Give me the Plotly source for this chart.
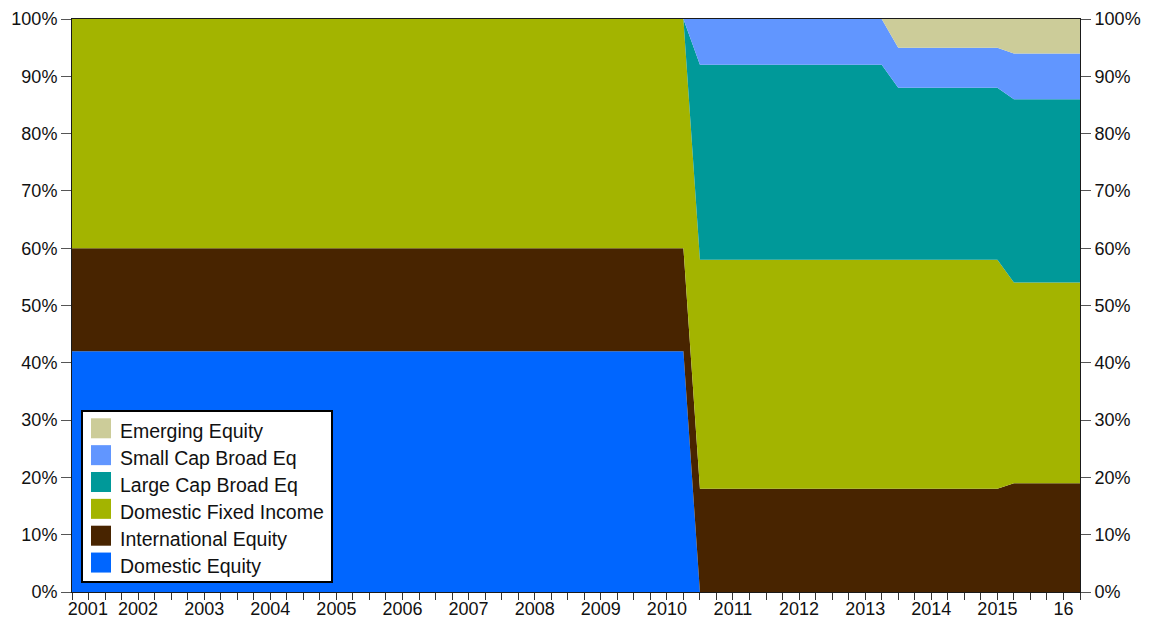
import plotly.graph_objects as go

# Quarterly dates (decimal years) at which the allocation changes; values are linear between them
dates = [2001.0, 2010.25, 2010.5, 2013.25, 2013.5, 2015.0, 2015.25, 2016.25]

domestic_equity = [42, 42, 0, 0, 0, 0, 0, 0]
international_equity = [18, 18, 18, 18, 18, 18, 19, 19]
domestic_fixed_income = [40, 40, 40, 40, 40, 40, 35, 35]
large_cap_broad_eq = [0, 0, 34, 34, 30, 30, 32, 32]
small_cap_broad_eq = [0, 0, 8, 8, 7, 7, 8, 8]
emerging_equity = [0, 0, 0, 0, 5, 5, 6, 6]

series_names = ["Domestic Equity", "International Equity", "Domestic Fixed Income",
                "Large Cap Broad Eq", "Small Cap Broad Eq", "Emerging Equity"]
series_values = [domestic_equity, international_equity, domestic_fixed_income,
                 large_cap_broad_eq, small_cap_broad_eq, emerging_equity]
series_colors = ["#0066FF", "#482400", "#A3B400", "#009999", "#6196FF", "#CCCC99"]

year_ticks = [2001.24, 2002, 2003, 2004, 2005, 2006, 2007, 2008, 2009, 2010,
              2011, 2012, 2013, 2014, 2015, 2016]
year_labels = ["2001", "2002", "2003", "2004", "2005", "2006", "2007", "2008", "2009", "2010",
               "2011", "2012", "2013", "2014", "2015", "16"]

FONT = "Arial, Liberation Sans, sans-serif"

fig = go.Figure()
for name, vals, col in zip(series_names, series_values, series_colors):
    fig.add_trace(go.Scatter(
        x=dates, y=vals, name=name, stackgroup="one", mode="lines",
        line=dict(width=0, color=col), fillcolor=col, showlegend=False,
        hoverinfo="x+y+name"))

# dummy trace to activate the right-hand axis
fig.add_trace(go.Scatter(x=[dates[0]], y=[0], yaxis="y2", mode="markers",
                         marker=dict(opacity=0), showlegend=False, hoverinfo="skip"))

TOP, BOTTOM, LEFT, RIGHT = 11, 31, 64, 74
W, H = 1146, 615
fig.update_layout(
    width=W, height=H,
    margin=dict(l=LEFT, r=RIGHT, t=TOP, b=BOTTOM),
    paper_bgcolor="white", plot_bgcolor="white",
    font=dict(family=FONT, size=18, color="#111111"),
    xaxis=dict(
        range=[2001.0, 2016.25], tickvals=year_ticks, ticktext=year_labels,
        ticks="", showgrid=False, zeroline=False, automargin=False,
        ticklabeloverflow="allow",
        showline=True, linecolor="#1a1a1a", linewidth=1, mirror=True,
        minor=dict(tick0=2001.0, dtick=0.25, ticks="outside", ticklen=7,
                   tickcolor="#333", tickwidth=1, showgrid=False),
        tickfont=dict(size=18),
    ),
    yaxis=dict(
        range=[0, 100], dtick=10, ticksuffix="%", ticks="outside", ticklen=10,
        tickcolor="#555", tickwidth=1, showgrid=False, zeroline=False, automargin=False,
        ticklabeloverflow="allow",
        showline=True, linecolor="#1a1a1a", linewidth=1, mirror=True,
        tickfont=dict(size=18),
    ),
    yaxis2=dict(
        range=[0, 100], dtick=10, ticksuffix="%", ticks="outside", ticklen=10,
        tickcolor="#555", tickwidth=1, showgrid=False, zeroline=False, automargin=False,
        ticklabeloverflow="allow",
        overlaying="y", side="right", showline=False,
        tickfont=dict(size=18),
    ),
)

# Legend box drawn manually (to reproduce the square swatches); page offset of 8px
plot_w = W - LEFT - RIGHT
plot_h = H - TOP - BOTTOM
x_left, y_bottom = 8 + LEFT, 8 + H - BOTTOM
def px_x(p):
    return (p - x_left) / plot_w
def px_y(p):
    return (y_bottom - p) / plot_h

shapes = [dict(type="rect", xref="paper", yref="paper",
               x0=px_x(82), x1=px_x(332), y0=px_y(582), y1=px_y(411),
               fillcolor="white", line=dict(color="black", width=2), layer="above")]
annotations = []
legend_order = list(range(len(series_names)))[::-1]
for i, idx in enumerate(legend_order):
    cy = 428.3 + i * 26.85
    shapes.append(dict(type="rect", xref="paper", yref="paper",
                       x0=px_x(91), x1=px_x(111), y0=px_y(cy + 10), y1=px_y(cy - 10),
                       fillcolor=series_colors[idx], line=dict(width=0), layer="above"))
    annotations.append(dict(xref="paper", yref="paper", x=px_x(118), y=px_y(cy + 3),
                            text=series_names[idx], showarrow=False,
                            xanchor="left", yanchor="middle",
                            font=dict(family=FONT, size=19.5, color="#111111")))
fig.update_layout(shapes=shapes, annotations=annotations)

fig.write_html("out.html")
